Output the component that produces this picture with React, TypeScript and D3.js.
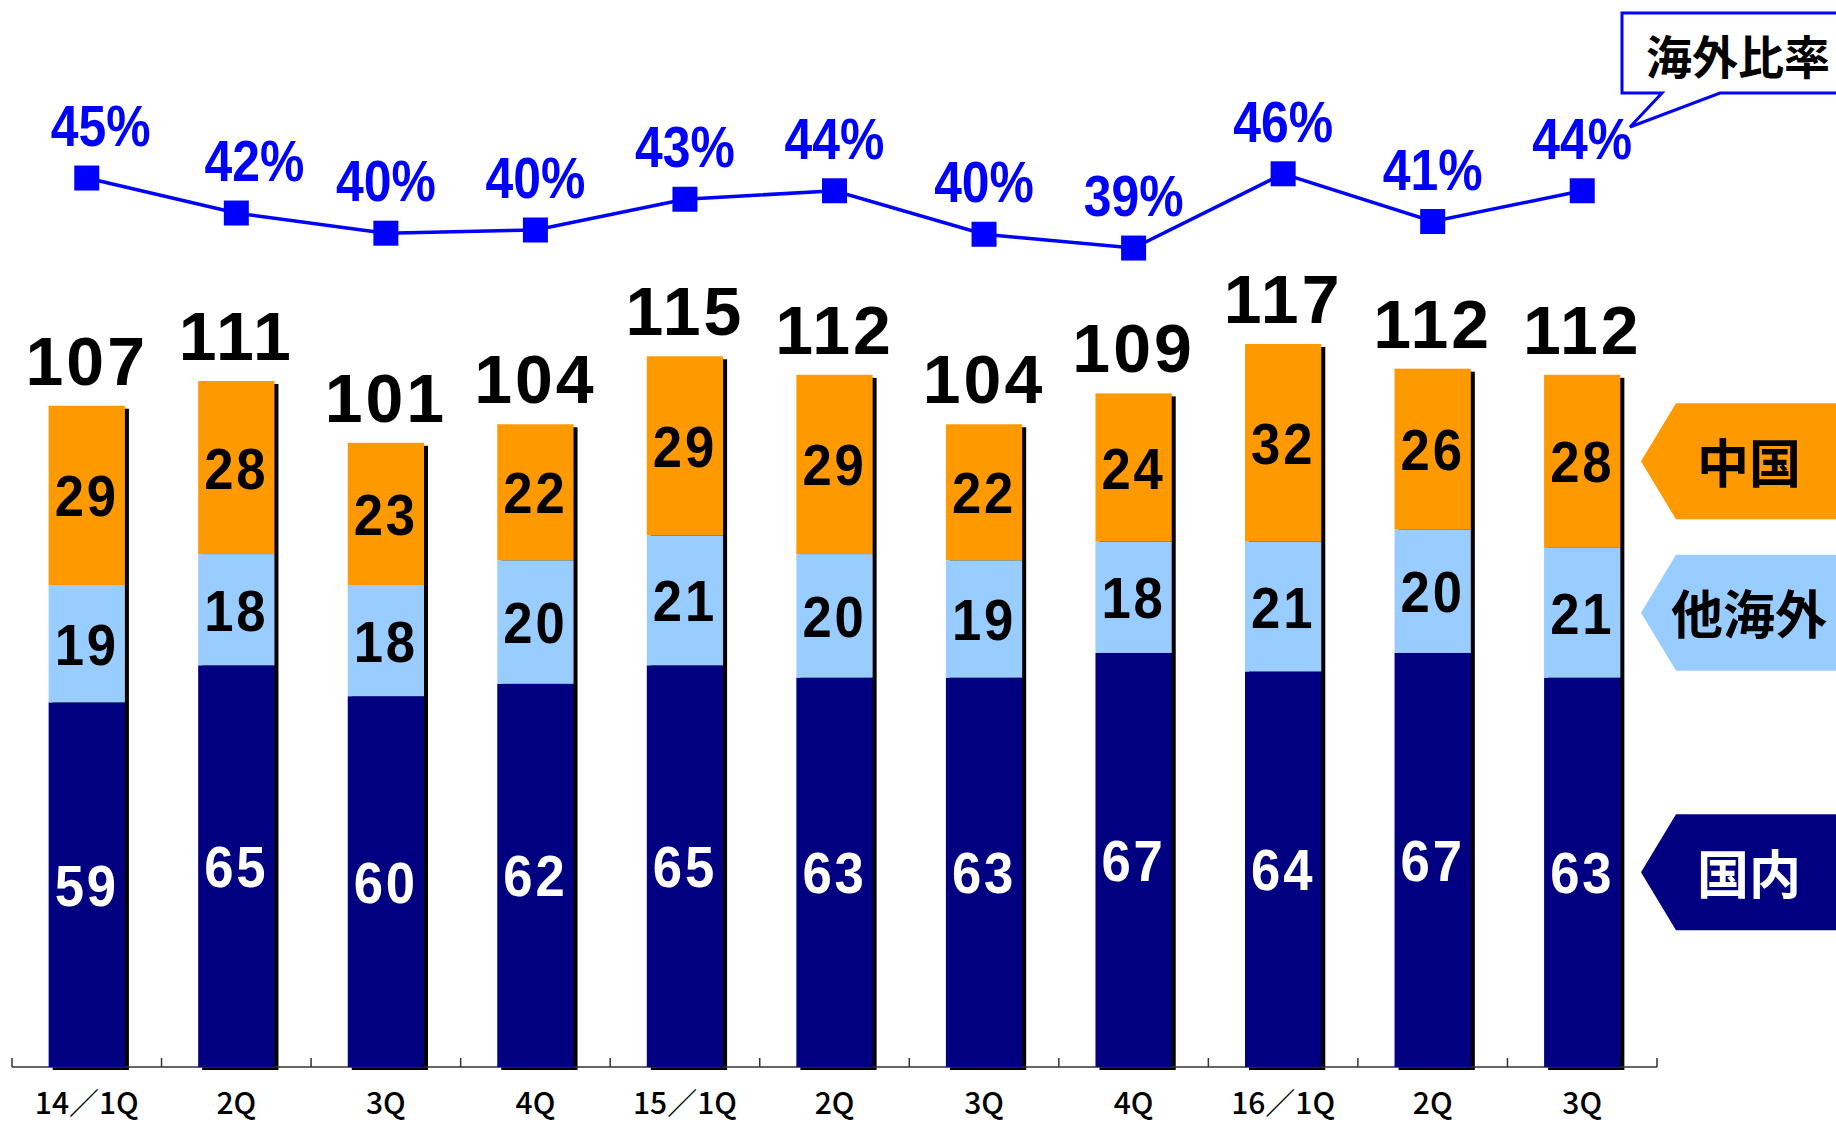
import * as d3 from 'd3';

// quarterly sales by region (index-based, labels repeat)
const quarters = ['14／1Q', '2Q', '3Q', '4Q', '15／1Q', '2Q', '3Q', '4Q', '16／1Q', '2Q', '3Q'];
const domestic = [59, 65, 60, 62, 65, 63, 63, 67, 64, 67, 63];
const otherOverseas = [19, 18, 18, 20, 21, 20, 19, 18, 21, 20, 21];
const china = [29, 28, 23, 22, 29, 29, 22, 24, 32, 26, 28];
const totals = [107, 111, 101, 104, 115, 112, 104, 109, 117, 112, 112];
// overseas ratio (%), line values and their printed labels
const overseasRatio = [45.2, 41.9, 40.0, 40.3, 43.2, 44.0, 39.9, 38.6, 45.6, 41.1, 44.0];
const ratioLabels = ['45%', '42%', '40%', '40%', '43%', '44%', '40%', '39%', '46%', '41%', '44%'];

const seriesNames = ['国内', '他海外', '中国'];
const seriesColors = ['#000080', '#99CCFF', '#FF9900'];
const labelColors = ['#FFFFFF', '#000000', '#000000'];

const W = 1836;
const H = 1126;
const NUM_FONT = '"Liberation Sans", Arial, sans-serif';
const JP_FONT = '"Noto Sans CJK JP", "Noto Sans", sans-serif';

export default function App() {
  const idx = quarters.map((_, i) => i);
  const x = d3.scaleBand<number>()
    .domain(idx)
    .range([12, 1657])
    .paddingInner(0.49)
    .paddingOuter(0.245);
  const y = d3.scaleLinear().domain([0, 100]).range([1067, 449]);
  const yr = d3.scaleLinear().domain([30, 50]).range([339.3, 127.1]);

  const rows = idx.map(i => ({ i, domestic: domestic[i], other: otherOverseas[i], china: china[i] }));
  const stacked = d3.stack<typeof rows[number]>().keys(['domestic', 'other', 'china'])(rows);

  const bw = x.bandwidth();
  const cx = (i: number) => (x(i) as number) + bw / 2;

  const line = d3.line<number>()
    .x((_, i) => cx(i))
    .y(d => yr(d));

  const ticks = d3.range(quarters.length + 1).map(k => x.range()[0] + k * x.step());
  const last = quarters.length - 1;

  // the first two ratio labels sit a little right of their markers
  const labelNudge = (i: number) => (i === 0 ? 14 : i === 1 ? 18 : 0);

  return (
    <div style={{ position: 'absolute', left: 0, top: 0 }}>
      <svg width={W} height={H} style={{ display: 'block', background: '#fff' }}>
        {/* bar shadows */}
        {idx.map(i => {
          const top = y(stacked[2][i][1]);
          return (
            <rect key={'s' + i} x={(x(i) as number) + 4} y={top + 3}
              width={bw} height={y(0) - top} fill="#000" />
          );
        })}
        {/* axis */}
        <line x1={ticks[0]} x2={ticks[ticks.length - 1]} y1={y(0)} y2={y(0)} stroke="#333" strokeWidth={1.5} />
        {ticks.map((t, k) => (
          <line key={'t' + k} x1={t} x2={t} y1={y(0)} y2={y(0) - 9} stroke="#333" strokeWidth={1.5} />
        ))}
        {/* stacked segments */}
        {stacked.map((layer, s) => (
          <g key={'l' + s}>
            {layer.map((d, i) => (
              <rect key={i} x={x(i)} y={y(d[1])} width={bw} height={y(d[0]) - y(d[1])} fill={seriesColors[s]} />
            ))}
          </g>
        ))}
        {/* segment values */}
        {stacked.map((layer, s) => (
          <g key={'v' + s}>
            {layer.map((d, i) => (
              <text key={i} transform={`translate(${cx(i)},${(y(d[0]) + y(d[1])) / 2}) scale(0.94,1.04)`} dy="0.36em"
                textAnchor="middle" fontFamily={NUM_FONT} fontWeight="bold" fontSize={56}
                letterSpacing={3} fill={labelColors[s]}>
                {d[1] - d[0]}
              </text>
            ))}
          </g>
        ))}
        {/* totals */}
        {idx.map(i => (
          <text key={'tot' + i} x={cx(i)} y={y(stacked[2][i][1]) - 21} textAnchor="middle"
            fontFamily={NUM_FONT} fontWeight="bold" fontSize={68} letterSpacing={3} fill="#000">
            {totals[i]}
          </text>
        ))}
        {/* x labels */}
        {idx.map(i => (
          <text key={'xl' + i} x={cx(i)} y={1114} textAnchor="middle"
            fontFamily={JP_FONT} fontWeight={500} fontSize={30} fill="#000">
            {quarters[i]}
          </text>
        ))}
        {/* overseas ratio line */}
        <path d={line(overseasRatio) as string} fill="none" stroke="#0000FF" strokeWidth={3.5} />
        {overseasRatio.map((v, i) => (
          <rect key={'m' + i} x={cx(i) - 12.5} y={yr(v) - 12.5} width={25} height={25} fill="#0000FF" />
        ))}
        {overseasRatio.map((v, i) => (
          <text key={'rl' + i} transform={`translate(${cx(i) + labelNudge(i)},${yr(v) - 32}) scale(0.86,1)`}
            textAnchor="middle" fontFamily={NUM_FONT} fontWeight="bold" fontSize={58} fill="#0000FF">
            {ratioLabels[i]}
          </text>
        ))}
        {/* callout */}
        <path d="M1622,13 H1840 V93 H1720 L1630,127 L1662,93 H1622 Z" fill="#fff" stroke="#0000FF" strokeWidth={3} />
        <text x={1738} y={57} dy="0.36em" textAnchor="middle" fontFamily={JP_FONT} fontWeight="bold" fontSize={46} fill="#000">
          海外比率
        </text>
        {/* series tags aligned to last bar's segments */}
        {stacked.map((layer, s) => {
          const d = layer[last];
          const c = (y(d[0]) + y(d[1])) / 2;
          const h = 58;
          return (
            <g key={'tag' + s}>
              <path d={`M1641,${c} L1676,${c - h} H1840 V${c + h} H1676 Z`} fill={seriesColors[s]} />
              <text x={1749} y={c + 3} dy="0.36em" textAnchor="middle" fontFamily={JP_FONT}
                fontWeight="bold" fontSize={52} fill={labelColors[s]}>
                {seriesNames[s]}
              </text>
            </g>
          );
        })}
      </svg>
    </div>
  );
}
